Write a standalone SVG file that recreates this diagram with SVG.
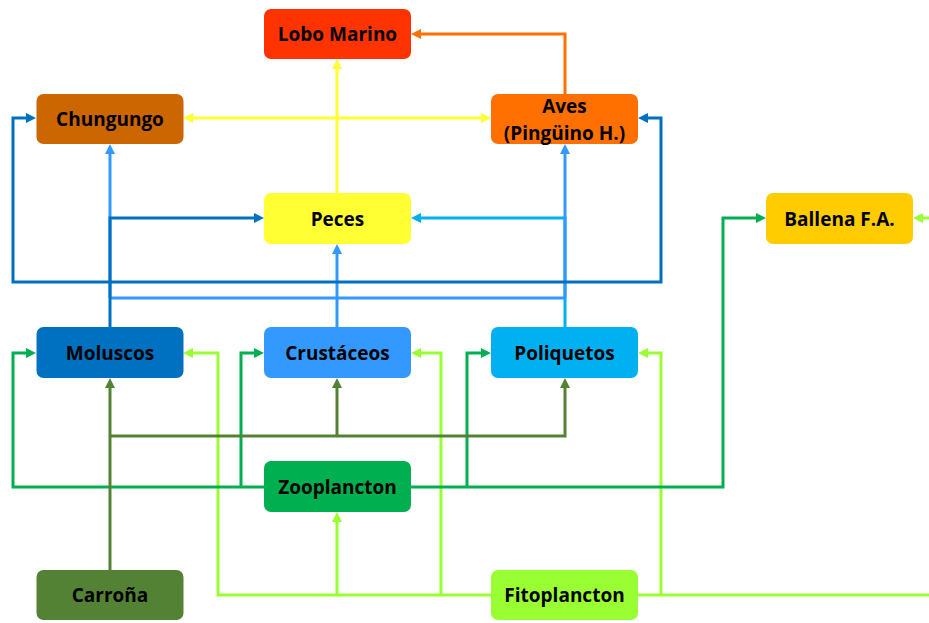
<svg xmlns="http://www.w3.org/2000/svg" width="929" height="623" viewBox="0 0 929 623">
<style>
.box{rx:7;ry:7}
text{font-family:"Open Sans","Liberation Sans",sans-serif;font-weight:700;font-size:19px;fill:#000;text-anchor:middle}
.c{fill:none;stroke-width:3;stroke-linejoin:miter}
</style>
<defs>
<marker id="aY" markerUnits="userSpaceOnUse" viewBox="0 0 10 10" refX="2" refY="5" markerWidth="10" markerHeight="10" orient="auto"><path d="M0,0L10,5L0,10z" fill="#FFFF33"/></marker>
<marker id="aO" markerUnits="userSpaceOnUse" viewBox="0 0 10 10" refX="2" refY="5" markerWidth="10" markerHeight="10" orient="auto"><path d="M0,0L10,5L0,10z" fill="#FF7000"/></marker>
<marker id="aD" markerUnits="userSpaceOnUse" viewBox="0 0 10 10" refX="2" refY="5" markerWidth="10" markerHeight="10" orient="auto"><path d="M0,0L10,5L0,10z" fill="#0070C0"/></marker>
<marker id="aL" markerUnits="userSpaceOnUse" viewBox="0 0 10 10" refX="2" refY="5" markerWidth="10" markerHeight="10" orient="auto"><path d="M0,0L10,5L0,10z" fill="#3399FF"/></marker>
<marker id="aC" markerUnits="userSpaceOnUse" viewBox="0 0 10 10" refX="2" refY="5" markerWidth="10" markerHeight="10" orient="auto"><path d="M0,0L10,5L0,10z" fill="#00B0F0"/></marker>
<marker id="aG" markerUnits="userSpaceOnUse" viewBox="0 0 10 10" refX="2" refY="5" markerWidth="10" markerHeight="10" orient="auto"><path d="M0,0L10,5L0,10z" fill="#00B050"/></marker>
<marker id="aV" markerUnits="userSpaceOnUse" viewBox="0 0 10 10" refX="2" refY="5" markerWidth="10" markerHeight="10" orient="auto"><path d="M0,0L10,5L0,10z" fill="#548235"/></marker>
<marker id="aF" markerUnits="userSpaceOnUse" viewBox="0 0 10 10" refX="2" refY="5" markerWidth="10" markerHeight="10" orient="auto"><path d="M0,0L10,5L0,10z" fill="#99FF33"/></marker>
</defs>
<rect width="929" height="623" fill="#fff"/>
<g id="connectors">
  <!-- Fitoplancton (light green) -->
  <g stroke="#99FF33" class="c">
    <path class="c" d="M491,595H218V353H191" marker-end="url(#aF)"/>
    <path class="c" d="M337,595V520" marker-end="url(#aF)"/>
    <path class="c" d="M441,595V353H419" marker-end="url(#aF)"/>
    <path class="c" d="M638,595H929"/>
    <path class="c" d="M661,595V353H646" marker-end="url(#aF)"/>
    <path class="c" d="M929,218H921" marker-end="url(#aF)"/>
  </g>
  <!-- Zooplancton (green) -->
  <g stroke="#00B050" class="c">
    <path class="c" d="M264,487H13V353H28" marker-end="url(#aG)"/>
    <path class="c" d="M241,487V353H256" marker-end="url(#aG)"/>
    <path class="c" d="M411,487H723V218H758" marker-end="url(#aG)"/>
    <path class="c" d="M467,487V353H483" marker-end="url(#aG)"/>
  </g>
  <!-- Carroña (olive) -->
  <g stroke="#548235" class="c">
    <path class="c" d="M110,570V386" marker-end="url(#aV)"/>
    <path class="c" d="M110,436H565V386" marker-end="url(#aV)"/>
    <path class="c" d="M337,436V386" marker-end="url(#aV)"/>
  </g>
  <!-- Poliquetos (cyan) -->
  <g stroke="#00B0F0" class="c">
    <path class="c" d="M565,327V218H419" marker-end="url(#aC)"/>
  </g>
  <!-- Crustaceos (light blue) -->
  <g stroke="#3399FF" class="c">
    <path class="c" d="M337,327V252" marker-end="url(#aL)"/>
    <path class="c" d="M110,298H565"/>
    <path class="c" d="M110,298V152" marker-end="url(#aL)"/>
    <path class="c" d="M565,298V152" marker-end="url(#aL)"/>
  </g>
  <!-- Moluscos (dark blue) -->
  <g stroke="#0070C0" class="c">
    <path class="c" d="M110,327V218H256" marker-end="url(#aD)"/>
    <path class="c" d="M110,282H13V118H28" marker-end="url(#aD)"/>
    <path class="c" d="M110,282H661V118H646" marker-end="url(#aD)"/>
  </g>
  <!-- Peces (yellow) -->
  <g stroke="#FFFF33" class="c">
    <path class="c" d="M337,193V67" marker-end="url(#aY)"/>
    <path class="c" d="M337,118H191" marker-end="url(#aY)"/>
    <path class="c" d="M337,118H483" marker-end="url(#aY)"/>
  </g>
  <!-- Aves (orange) -->
  <g stroke="#FF7000" class="c">
    <path class="c" d="M565,94V34H419" marker-end="url(#aO)"/>
  </g>
</g>
<g id="lobo-marino"><rect class="box" x="264" y="9" width="147" height="50" fill="#FF3300"/><text x="337.5" y="41">Lobo Marino</text></g>
<g id="chungungo"><rect class="box" x="36.5" y="94" width="147" height="50" fill="#CC6600"/><text x="110" y="125.5">Chungungo</text></g>
<g id="aves"><rect class="box" x="491" y="94" width="147" height="50" fill="#FF7000"/><text x="564.5" y="112.5">Aves</text><text x="564.5" y="139.5">(Pingüino H.)</text></g>
<g id="peces"><rect class="box" x="264" y="193" width="147" height="51" fill="#FFFF33"/><text x="337.5" y="225.5">Peces</text></g>
<g id="ballena"><rect class="box" x="766" y="193" width="147" height="51" fill="#FFCC00"/><text x="839.5" y="225.5">Ballena F.A.</text></g>
<g id="moluscos"><rect class="box" x="36.5" y="327" width="147" height="51" fill="#0070C0"/><text x="110" y="359.5">Moluscos</text></g>
<g id="crustaceos"><rect class="box" x="264" y="327" width="147" height="51" fill="#3399FF"/><text x="337.5" y="359.5">Crustáceos</text></g>
<g id="poliquetos"><rect class="box" x="491" y="327" width="147" height="51" fill="#00B0F0"/><text x="564.5" y="359.5">Poliquetos</text></g>
<g id="zooplancton"><rect class="box" x="264" y="461" width="147" height="51" fill="#00B050"/><text x="337.5" y="493.5">Zooplancton</text></g>
<g id="carrona"><rect class="box" x="36.5" y="570" width="147" height="50" fill="#548235"/><text x="110" y="602">Carroña</text></g>
<g id="fitoplancton"><rect class="box" x="491" y="570" width="147" height="50" fill="#99FF33"/><text x="564.5" y="602">Fitoplancton</text></g>
</svg>
